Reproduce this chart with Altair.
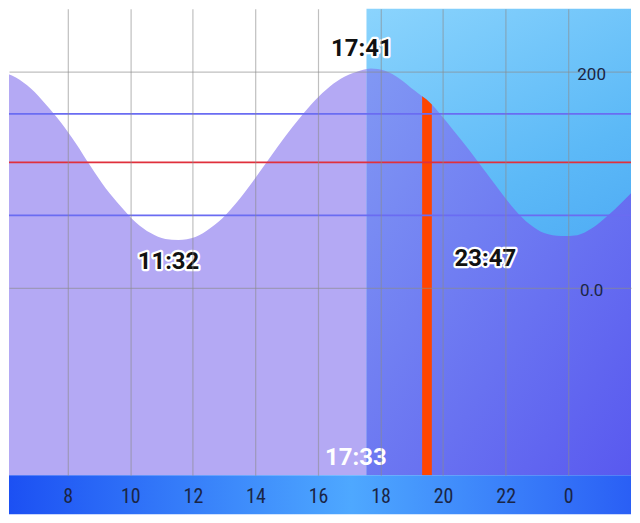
import altair as alt
import pandas as pd

# Tide curve (hour of day, continuing past midnight as 24+)
hours = [5.86, 6.34, 6.82, 7.30, 7.78, 8.26, 8.73, 9.21, 9.69, 10.17, 10.65, 11.12,
         11.54, 12.08, 12.56, 13.04, 13.51, 13.99, 14.47, 14.95, 15.43, 15.90, 16.38,
         16.86, 17.34, 17.55, 17.69, 18.14, 18.61, 19.09, 19.33, 19.47, 19.64, 19.89,
         20.36, 20.84, 21.32, 21.80, 22.28, 22.76, 23.23, 23.78, 24.29, 24.77, 25.25,
         25.72, 26.26]
heights = [200, 194.5, 184.3, 169.6, 153, 133.6, 112.4, 92.2, 75.6, 60.8, 50.7, 45.2,
           44.2, 47, 55.3, 67.3, 82.9, 101.4, 120.7, 140, 157.6, 173.3, 186.2,
           195.4, 200.9, 202.3, 202.8, 200.9, 193.5, 182.5, 177.2, 174.2, 169.5, 161.3,
           144.7, 127.2, 108.8, 90.3, 72.8, 59, 50.7, 47.9, 48.8, 55.3, 66.4,
           79.3, 94.9]

# reference levels
blue_levels = [161, 67]
red_levels = [116]

# time split (sunset / now) and current-time marker
split_hour = 17.55
marker_start, marker_end = 19.33, 19.64

# annotations
ann_text = ["17:41", "11:32", "23:47"]
ann_hour = [17.40, 11.22, 21.35]
ann_value = [221.2, 24.0, 26.7]
now_text = ["17:33"]
now_hour = [17.21]
now_value = [-157.6]

x_ticks = [8, 10, 12, 14, 16, 18, 20, 22, 24]
y_ticks = [0, 200]

X_DOMAIN = [6.12, 26.008]
Y_DOMAIN = [-173.27, 258.06]
W, H = 624, 468
BAND = 39

tide = pd.DataFrame({"hour": hours, "height": heights})
levels = pd.DataFrame({"level": blue_levels + red_levels,
                       "kind": ["blue"] * len(blue_levels) + ["red"] * len(red_levels)})
span = pd.DataFrame({"hour": [split_hour], "hour_end": [X_DOMAIN[1]]})
ann = pd.DataFrame({"label": ann_text, "hour": ann_hour, "height": ann_value})
now = pd.DataFrame({"label": now_text, "hour": now_hour, "height": now_value})
one = pd.DataFrame({"a": [0]})

xscale = alt.Scale(domain=X_DOMAIN, nice=False, zero=False)
yscale = alt.Scale(domain=Y_DOMAIN, nice=False, zero=False)

xaxis = alt.Axis(values=x_ticks, labelExpr="'' + (datum.value % 24)", title=None,
                 grid=True, gridColor="#8a8a8a", gridOpacity=0.55, gridWidth=1.2,
                 domain=False, ticks=False, tickSize=0,
                 labelFont="Roboto Condensed, DejaVu Sans Condensed, Liberation Sans Narrow, Roboto",
                 labelFontSize=20, labelColor="#1a2545", labelPadding=21,
                 labelBaseline="middle", labelFlush=False, labelOverlap=False, zindex=1)
yaxis = alt.Axis(values=y_ticks, orient="right", labelExpr="datum.value == 0 ? '0.0' : datum.label",
                 title=None, grid=True, gridColor="#8a8a8a", gridOpacity=0.55, gridWidth=1.2,
                 domain=False, ticks=False, tickSize=0, labelFont="Roboto", labelFontSize=17,
                 labelColor="#1a2545", labelPadding=-40, labelAlign="center",
                 labelBaseline="middle", labelOffset=3, labelOverlap=False, zindex=1)

X = alt.X("hour:Q", scale=xscale, axis=xaxis)
Y = alt.Y("height:Q", scale=yscale, axis=yaxis)

sky = alt.Chart(span).mark_rect(
    fill={"gradient": "linear", "x1": 0, "y1": 0, "x2": 0.3, "y2": 1,
          "stops": [{"offset": 0, "color": "#8bd4fd"},
                    {"offset": 0.5, "color": "#5cb9f7"},
                    {"offset": 1, "color": "#3f9cf2"}]}
).encode(x=X, x2="hour_end:Q", y=alt.value(0), y2=alt.value(H))

area_left = alt.Chart(tide).mark_area(color="#b4a9f4", interpolate="monotone", clip=True).encode(
    x=X, y=Y, y2=alt.datum(Y_DOMAIN[0])
).transform_filter(alt.datum.hour <= split_hour)

area_right = alt.Chart(tide).mark_area(
    interpolate="monotone", clip=True,
    fill={"gradient": "linear", "x1": 0, "y1": 0, "x2": 1, "y2": 1,
          "stops": [{"offset": 0, "color": "#8198f4"},
                    {"offset": 1, "color": "#5858ef"}]}
).encode(x=X, y=Y, y2=alt.datum(Y_DOMAIN[0])).transform_filter(alt.datum.hour >= split_hour)

marker = alt.Chart(tide).mark_area(color="#ff4500", interpolate="linear").encode(
    x=X, y=Y, y2=alt.datum(Y_DOMAIN[0])
).transform_filter((alt.datum.hour >= marker_start) & (alt.datum.hour <= marker_end))

rules = alt.Chart(levels).mark_rule(strokeWidth=1.8).encode(
    y=alt.Y("level:Q", scale=yscale, axis=yaxis),
    color=alt.Color("kind:N", scale=alt.Scale(domain=["blue", "red"], range=["#6a6cf2", "#e0303c"]),
                    legend=None)
)

band = alt.Chart(one).mark_rect(
    fill={"gradient": "linear", "x1": 0, "y1": 0, "x2": 1, "y2": 0,
          "stops": [{"offset": 0, "color": "#1c50f3"},
                    {"offset": 0.55, "color": "#4ea8ff"},
                    {"offset": 1, "color": "#2a5ff5"}]}
).encode(x=alt.value(0), x2=alt.value(W), y=alt.value(H), y2=alt.value(H + BAND))

halo = alt.Chart(ann).mark_text(font="Roboto", fontSize=24, fontWeight="bold", stroke="white",
                                strokeWidth=4.5, strokeJoin="round", fill="white").encode(
    x=X, y=Y, text="label:N")
labels = alt.Chart(ann).mark_text(font="Roboto", fontSize=24, fontWeight="bold", color="#111111").encode(
    x=X, y=Y, text="label:N")
now_lbl = alt.Chart(now).mark_text(font="Roboto", fontSize=24, fontWeight="bold", color="white").encode(
    x=X, y=Y, text="label:N")

chart = alt.layer(sky, area_left, area_right, marker, rules, band, halo, labels, now_lbl).properties(
    width=W, height=H, padding=0, background="white"
).configure_view(stroke=None)

chart.save("out.html", embed_options={"renderer": "svg", "actions": False})
